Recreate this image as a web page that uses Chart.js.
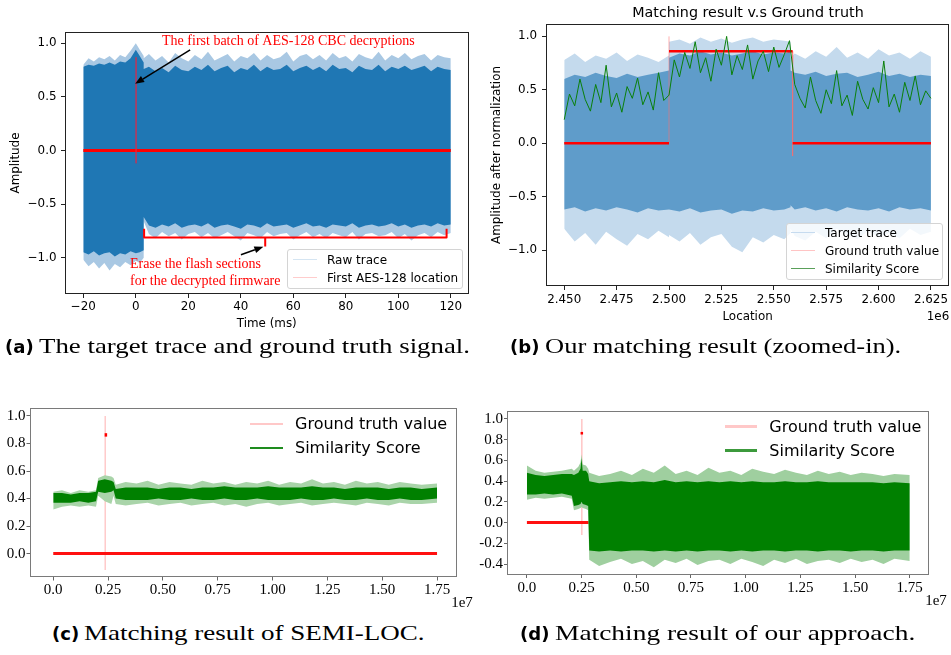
<!DOCTYPE html>
<html>
<head>
<meta charset="utf-8">
<script src="https://cdn.jsdelivr.net/npm/chart.js@4.4.1/dist/chart.umd.min.js"></script>
<style>
  html, body { margin: 0; padding: 0; background: #fff; }
  #page { position: relative; width: 951px; height: 655px; overflow: hidden; }
  canvas { position: absolute; }
  .txt { position: absolute; white-space: nowrap; line-height: 1; }
  .cap { position: absolute; white-space: nowrap; line-height: 1; font-family: "Liberation Serif", serif; font-size: 21px; color: #000; transform: translateY(-50%); }
  .cap b { font-family: "DejaVu Sans", sans-serif; font-weight: bold; font-size: 0.86em; }
  .cap span { display: inline-block; transform-origin: 0 50%; }
  .legend { position: absolute; box-sizing: border-box; }
  .legend.framed { border: 1px solid #d4d4d4; border-radius: 3px; background: rgba(255,255,255,0.8); }
  .legend .sw { position: absolute; }
  .legend .lt { position: absolute; white-space: nowrap; line-height: 1; font-family: "DejaVu Sans", sans-serif; color: #000; transform: translateY(-50%); }
</style>
</head>
<body>
<div id="page">
  <canvas id="ca" width="475" height="340" style="left:0;top:0"></canvas>
  <canvas id="cb" width="471" height="330" style="left:480px;top:0"></canvas>
  <canvas id="cc" width="475" height="230" style="left:0;top:380px"></canvas>
  <canvas id="cd" width="476" height="230" style="left:475px;top:380px"></canvas>
</div>
<script>
// (a) raw trace envelope, time in ms
const aX = [-20,-18,-16,-14,-12,-10,-8,-6,-4,-2,0,1.5,3,
  3,5,7.5,10,12.5,15,17.5,20,22.5,25,27.5,30,32.5,35,37.5,40,42.5,45,47.5,50,52.5,55,57.5,60,62.5,65,67.5,70,72.5,75,77.5,80,82.5,85,87.5,90,92.5,95,97.5,100,102.5,105,107.5,110,112.5,115,117.5,120];
const aTopLight = [0.80,0.86,0.83,0.87,0.85,0.88,0.84,0.89,0.87,0.93,1.00,0.94,0.88,
  0.86,0.90,0.84,0.88,0.82,0.91,0.86,0.83,0.89,0.85,0.92,0.84,0.87,0.90,0.83,0.88,0.86,0.91,0.84,0.89,0.85,0.87,0.92,0.83,0.88,0.90,0.85,0.89,0.84,0.91,0.86,0.88,0.83,0.90,0.87,0.85,0.92,0.84,0.89,0.86,0.91,0.85,0.88,0.90,0.84,0.89,0.87,0.86];
const aTopSolid = [0.78,0.80,0.79,0.81,0.80,0.82,0.80,0.83,0.82,0.86,0.94,0.88,0.82,
  0.76,0.78,0.74,0.77,0.73,0.79,0.75,0.74,0.78,0.75,0.80,0.74,0.77,0.79,0.73,0.77,0.75,0.80,0.74,0.78,0.75,0.76,0.80,0.74,0.77,0.79,0.75,0.78,0.74,0.80,0.76,0.77,0.73,0.79,0.76,0.75,0.80,0.74,0.78,0.76,0.79,0.75,0.77,0.79,0.74,0.78,0.76,0.75];
const aBotSolid = [-0.95,-0.97,-0.94,-0.98,-0.96,-0.95,-0.99,-0.96,-0.97,-0.94,-0.96,-0.95,-0.93,
  -0.62,-0.70,-0.72,-0.69,-0.71,-0.68,-0.72,-0.70,-0.69,-0.71,-0.68,-0.72,-0.70,-0.69,-0.71,-0.73,-0.69,-0.70,-0.72,-0.68,-0.71,-0.70,-0.69,-0.72,-0.70,-0.68,-0.71,-0.70,-0.72,-0.69,-0.70,-0.71,-0.68,-0.72,-0.70,-0.69,-0.71,-0.70,-0.68,-0.71,-0.69,-0.72,-0.70,-0.69,-0.71,-0.68,-0.70,-0.69];
const aBotLight = [-1.02,-1.08,-1.04,-1.10,-1.05,-1.12,-1.06,-1.09,-1.04,-1.07,-1.03,-1.05,-1.00,
  -0.66,-0.78,-0.82,-0.76,-0.80,-0.77,-0.83,-0.78,-0.76,-0.81,-0.77,-0.82,-0.79,-0.76,-0.80,-0.84,-0.77,-0.79,-0.82,-0.76,-0.80,-0.78,-0.77,-0.83,-0.79,-0.76,-0.81,-0.78,-0.82,-0.77,-0.79,-0.81,-0.76,-0.83,-0.78,-0.77,-0.80,-0.79,-0.76,-0.82,-0.78,-0.84,-0.79,-0.77,-0.81,-0.76,-0.79,-0.77];
const aTruthX = [-20, 120];
const aTruthY = [0, 0];
const aMarkX = [0.1, 0.1];
const aMarkY = [0.87, -0.12];
const aXTicks = [-20, 0, 20, 40, 60, 80, 100, 120];
const aXLabels = ["\u221220", "0", "20", "40", "60", "80", "100", "120"];
const aYTicks = [-1, -0.5, 0, 0.5, 1];
const aYLabels = ["\u22121.0", "\u22120.5", "0.0", "0.5", "1.0"];
const aLegend = ["Raw trace", "First AES-128 location"];

// (b) zoomed-in window, location in 1e6 samples
const bX = [2.450,2.455,2.460,2.465,2.470,2.475,2.480,2.485,2.490,2.495,2.500,
  2.500,2.505,2.510,2.515,2.520,2.525,2.530,2.535,2.540,2.545,2.550,2.555,2.558,
  2.558,2.560,2.565,2.570,2.575,2.580,2.585,2.590,2.595,2.600,2.605,2.610,2.615,2.620,2.625];
const bTopLight = [0.78,0.84,0.76,0.82,0.79,0.85,0.77,0.83,0.80,0.76,0.82,
  0.95,0.97,0.93,0.99,0.95,0.98,0.94,0.97,0.99,0.95,0.97,0.96,0.95,
  0.80,0.84,0.79,0.86,0.81,0.90,0.80,0.85,0.79,0.88,0.82,0.85,0.79,0.86,0.81];
const bTopSolid = [0.60,0.64,0.62,0.66,0.63,0.61,0.65,0.62,0.64,0.66,0.68,
  0.80,0.84,0.82,0.86,0.83,0.85,0.82,0.84,0.86,0.83,0.85,0.84,0.86,
  0.68,0.66,0.64,0.67,0.63,0.65,0.66,0.62,0.64,0.67,0.63,0.65,0.62,0.64,0.63];
const bBotSolid = [-0.62,-0.60,-0.64,-0.61,-0.63,-0.60,-0.62,-0.65,-0.61,-0.63,-0.62,
  -0.62,-0.64,-0.61,-0.65,-0.63,-0.62,-0.66,-0.63,-0.64,-0.61,-0.63,-0.62,-0.60,
  -0.58,-0.62,-0.60,-0.63,-0.61,-0.64,-0.60,-0.62,-0.63,-0.61,-0.64,-0.60,-0.62,-0.61,-0.63];
const bBotLight = [-0.80,-0.92,-0.84,-0.95,-0.83,-0.90,-0.96,-0.85,-0.90,-0.82,-0.88,
  -0.86,-0.92,-0.84,-0.95,-0.88,-0.85,-0.97,-1.02,-0.88,-0.93,-0.86,-0.90,-0.84,
  -0.80,-0.87,-0.91,-0.83,-0.89,-0.80,-0.86,-0.90,-0.82,-0.88,-0.84,-0.89,-0.80,-0.86,-0.83];
const bScoreX = [2.4500,2.4525,2.4550,2.4575,2.4600,2.4625,2.4650,2.4675,2.4700,2.4725,2.4750,2.4775,2.4800,2.4825,2.4850,2.4875,2.4900,2.4925,2.4950,2.4975,
  2.5000,
  2.5025,2.5050,2.5075,2.5100,2.5125,2.5150,2.5175,2.5200,2.5225,2.5250,2.5275,2.5300,2.5325,2.5350,2.5375,2.5400,2.5425,2.5450,2.5475,2.5500,2.5525,2.5550,2.5575,
  2.5600,2.5625,2.5650,2.5675,2.5700,2.5725,2.5750,2.5775,2.5800,2.5825,2.5850,2.5875,2.5900,2.5925,2.5950,2.5975,2.6000,2.6025,2.6050,2.6075,2.6100,2.6125,2.6150,2.6175,2.6200,2.6225,2.6250];
const bScoreY = [0.22,0.46,0.35,0.60,0.41,0.30,0.55,0.38,0.73,0.34,0.47,0.29,0.53,0.42,0.61,0.36,0.48,0.31,0.66,0.40,
  0.45,
  0.78,0.62,0.85,0.70,0.95,0.66,0.80,0.58,0.88,0.73,1.00,0.64,0.82,0.69,0.92,0.60,0.77,0.86,0.67,0.90,0.71,0.83,0.96,
  0.55,0.42,0.33,0.62,0.40,0.28,0.50,0.37,0.68,0.35,0.45,0.26,0.58,0.41,0.32,0.52,0.38,0.77,0.34,0.46,0.29,0.57,0.40,0.63,0.36,0.49,0.42];
const bTruthX = [2.450, 2.500, 2.500, 2.500, 2.559, 2.559, 2.559, 2.625];
const bTruthY = [0, 0, null, 0.86, 0.86, null, 0, 0];
const bSpikeX = [2.500, 2.500, 2.500, 2.559, 2.559];
const bSpikeY = [0, 1.0, null, 0.86, -0.12];
const bXTicks = [2.45, 2.475, 2.5, 2.525, 2.55, 2.575, 2.6, 2.625];
const bXLabels = ["2.450", "2.475", "2.500", "2.525", "2.550", "2.575", "2.600", "2.625"];
const bYTicks = aYTicks;
const bYLabels = aYLabels;
const bLegend = ["Target trace", "Ground truth value", "Similarity Score"];

// (c) SEMI-LOC score over the full trace, location in 1e7 samples
const cX = [0,0.04,0.08,0.12,0.16,0.195, 0.205,0.235,0.265,0.275,
  0.285,0.33,0.38,0.43,0.48,0.53,0.58,0.63,0.68,0.73,0.78,0.83,0.88,0.93,0.98,1.03,1.08,1.13,1.18,1.23,1.28,1.33,1.38,1.43,1.48,1.53,1.58,1.63,1.68,1.75];
const cTopLight = [0.45,0.46,0.44,0.46,0.45,0.46, 0.55,0.57,0.56,0.55,
  0.50,0.52,0.51,0.53,0.50,0.52,0.51,0.50,0.53,0.51,0.52,0.50,0.52,0.51,0.53,0.50,0.52,0.51,0.54,0.51,0.52,0.50,0.53,0.51,0.52,0.50,0.52,0.51,0.50,0.51];
const cTopSolid = [0.44,0.44,0.43,0.44,0.44,0.45, 0.53,0.54,0.53,0.52,
  0.47,0.48,0.48,0.48,0.47,0.48,0.48,0.47,0.48,0.48,0.49,0.48,0.48,0.48,0.49,0.48,0.48,0.48,0.49,0.48,0.48,0.47,0.48,0.48,0.48,0.47,0.48,0.48,0.47,0.48];
const cBotSolid = [0.37,0.37,0.37,0.38,0.37,0.38, 0.45,0.44,0.45,0.46,
  0.40,0.39,0.39,0.39,0.40,0.39,0.39,0.40,0.39,0.39,0.40,0.39,0.39,0.40,0.39,0.39,0.39,0.40,0.39,0.39,0.40,0.39,0.39,0.40,0.39,0.39,0.40,0.39,0.39,0.40];
const cBotLight = [0.32,0.34,0.35,0.34,0.35,0.34, 0.42,0.38,0.36,0.42,
  0.36,0.35,0.36,0.37,0.35,0.36,0.37,0.35,0.36,0.37,0.35,0.36,0.34,0.36,0.37,0.35,0.36,0.37,0.35,0.36,0.37,0.36,0.35,0.37,0.36,0.35,0.37,0.36,0.36,0.37];
const cTruthX = [0, 1.75];
const cTruthY = [0, 0];
const cSpikeX = [0.237, 0.237];
const cSpikeY = [-0.12, 1.0];
const cMarkX = [0.24, 0.24];
const cMarkY = [0.85, 0.875];
const cXTicks = [0, 0.25, 0.5, 0.75, 1.0, 1.25, 1.5, 1.75];
const cXLabels = ["0.0", "0.25", "0.50", "0.75", "1.00", "1.25", "1.50", "1.75"];
const cYTicks = [0, 0.2, 0.4, 0.6, 0.8, 1.0];
const cYLabels = ["0.0", "0.2", "0.4", "0.6", "0.8", "1.0"];
const cLegend = ["Ground truth value", "Similarity Score"];

// (d) our approach over the full trace
const dX = [0,0.04,0.08,0.12,0.16,0.205, 0.215,0.235,0.245,0.25,0.255,0.27,0.28,
  0.285,0.33,0.38,0.43,0.48,0.53,0.58,0.63,0.68,0.73,0.78,0.83,0.88,0.93,0.98,1.03,1.08,1.13,1.18,1.23,1.28,1.33,1.38,1.43,1.48,1.53,1.58,1.63,1.68,1.75];
const dTopLight = [0.55,0.50,0.48,0.49,0.50,0.52, 0.50,0.54,0.58,0.66,0.56,0.55,0.52,
  0.48,0.45,0.47,0.50,0.46,0.52,0.48,0.55,0.47,0.50,0.46,0.53,0.48,0.50,0.46,0.52,0.49,0.47,0.51,0.48,0.46,0.50,0.47,0.49,0.46,0.48,0.47,0.45,0.47,0.46];
const dTopSolid = [0.48,0.46,0.45,0.46,0.47,0.47, 0.46,0.48,0.52,0.62,0.50,0.50,0.47,
  0.40,0.38,0.39,0.40,0.39,0.40,0.39,0.41,0.39,0.40,0.39,0.40,0.39,0.40,0.39,0.40,0.39,0.39,0.40,0.39,0.39,0.40,0.39,0.39,0.39,0.39,0.39,0.38,0.39,0.38];
const dBotSolid = [0.27,0.27,0.28,0.27,0.28,0.26, 0.16,0.17,0.18,0.20,0.18,0.17,0.16,
  -0.27,-0.28,-0.27,-0.28,-0.27,-0.27,-0.28,-0.27,-0.28,-0.27,-0.28,-0.27,-0.27,-0.28,-0.27,-0.28,-0.27,-0.27,-0.28,-0.27,-0.27,-0.28,-0.27,-0.27,-0.28,-0.27,-0.27,-0.28,-0.27,-0.27];
const dBotLight = [0.22,0.24,0.23,0.24,0.25,0.23, 0.12,0.13,0.14,0.15,0.14,0.13,0.12,
  -0.36,-0.42,-0.38,-0.35,-0.40,-0.37,-0.43,-0.36,-0.39,-0.35,-0.41,-0.37,-0.36,-0.40,-0.35,-0.38,-0.42,-0.36,-0.39,-0.35,-0.40,-0.37,-0.36,-0.39,-0.35,-0.38,-0.36,-0.40,-0.35,-0.37];
const dTruthX = [0, 0.29];
const dTruthY = [0, 0];
const dSpikeX = [0.251, 0.251];
const dSpikeY = [-0.12, 1.0];
const dMarkX = [0.251, 0.251];
const dMarkY = [0.85, 0.875];
const dXTicks = cXTicks;
const dXLabels = cXLabels;
const dYTicks = [-0.4, -0.2, 0, 0.2, 0.4, 0.6, 0.8, 1.0];
const dYLabels = ["-0.4", "-0.2", "0.0", "0.2", "0.4", "0.6", "0.8", "1.0"];
const dLegend = cLegend;

const $ = (sel) => document.querySelector(sel);
const page = $("#page");

const SANS = { family: "DejaVu Sans", size: 11.9 };
const SERIF = { family: "Liberation Serif", size: 15 };

function pts(xs, ys) {
  return xs.map((x, i) => ({ x, y: ys[i] }));
}

function band(xs, top, bot, color, order) {
  return [
    { data: pts(xs, top), fill: "+1", backgroundColor: color, borderColor: "rgba(0,0,0,0)", borderWidth: 1, order },
    { data: pts(xs, bot), fill: false, borderColor: "rgba(0,0,0,0)", borderWidth: 1, order },
  ];
}

function line(xs, ys, color, width, order) {
  return { data: pts(xs, ys), fill: false, borderColor: color, borderWidth: width, spanGaps: false, order };
}

function axis(o) {
  return {
    type: "linear",
    min: o.min,
    max: o.max,
    afterBuildTicks: (s) => { s.ticks = o.ticks.map((v) => ({ value: v })); },
    afterFit: (s) => { if (s.isHorizontal()) s.height = o.size; else s.width = o.size; },
    ticks: { autoSkip: false, maxRotation: 0, padding: o.pad, font: o.font, color: "#000", callback: (v, i) => o.labels[i] },
    grid: { drawOnChartArea: false, drawTicks: true, tickLength: o.tick, tickColor: o.tickColor, tickWidth: 1 },
    border: { display: false },
    title: o.title
      ? { display: true, text: o.title, font: o.font, color: "#000", padding: o.titlePad }
      : { display: false },
  };
}

const frame = (color) => ({
  id: "frame",
  afterDatasetsDraw(chart) {
    const { ctx, chartArea: a } = chart;
    ctx.save();
    ctx.strokeStyle = color;
    ctx.lineWidth = 1;
    ctx.strokeRect(Math.round(a.left) + 0.5, Math.round(a.top) + 0.5, Math.round(a.width) - 1, Math.round(a.height) - 1);
    ctx.restore();
  },
});

function makeChart(id, o) {
  return new Chart($(id), {
    type: "line",
    data: { datasets: o.datasets },
    options: {
      responsive: false,
      animation: false,
      devicePixelRatio: 1,
      events: [],
      layout: { padding: o.padding },
      elements: { point: { radius: 0, hoverRadius: 0 }, line: { tension: 0 } },
      plugins: { legend: { display: false }, tooltip: { enabled: false }, title: { display: false } },
      scales: { x: axis(o.x), y: axis(o.y) },
    },
    plugins: [frame(o.frameColor)].concat(o.extra || []),
  });
}

// annotations of (a), placed in data coordinates
const aNotes = {
  texts: [
    { text: "The first batch of AES-128 CBC decryptions", x: 10.0, y: 0.986 },
    { text: "Erase the flash sections", x: -2.2, y: -1.094 },
    { text: "for the decrypted firmware", x: -2.2, y: -1.259 },
  ],
  arrows: [
    { from: [20.7, 0.939], to: [-0.27, 0.622] },
    { from: [40.05, -0.973], to: [48.6, -0.898] },
  ],
  bracket: { x0: 3.16, x1: 118.4, y: -0.812, yEnd: -0.73, xMid: 49.3, yMid: -0.896 },
};

const notesPlugin = {
  id: "notes",
  afterDraw(chart) {
    const { ctx, scales: { x, y } } = chart;
    const px = (v) => x.getPixelForValue(v);
    const py = (v) => y.getPixelForValue(v);
    ctx.save();
    const b = aNotes.bracket;
    ctx.strokeStyle = "#ff0000";
    ctx.lineWidth = 2;
    ctx.lineJoin = "round";
    ctx.beginPath();
    ctx.moveTo(px(b.x0), py(b.yEnd));
    ctx.lineTo(px(b.x0), py(b.y));
    ctx.lineTo(px(b.x1), py(b.y));
    ctx.lineTo(px(b.x1), py(b.yEnd));
    ctx.moveTo(px(b.xMid), py(b.y));
    ctx.lineTo(px(b.xMid), py(b.yMid));
    ctx.stroke();

    ctx.strokeStyle = "#000";
    ctx.fillStyle = "#000";
    ctx.lineWidth = 1.5;
    for (const a of aNotes.arrows) {
      const x0 = px(a.from[0]), y0 = py(a.from[1]);
      const x1 = px(a.to[0]), y1 = py(a.to[1]);
      const ang = Math.atan2(y1 - y0, x1 - x0);
      const hl = 9, hw = 3.5;
      const bx = x1 - hl * Math.cos(ang), by = y1 - hl * Math.sin(ang);
      ctx.beginPath();
      ctx.moveTo(x0, y0);
      ctx.lineTo(bx, by);
      ctx.stroke();
      ctx.beginPath();
      ctx.moveTo(x1, y1);
      ctx.lineTo(bx + hw * Math.sin(ang), by - hw * Math.cos(ang));
      ctx.lineTo(bx - hw * Math.sin(ang), by + hw * Math.cos(ang));
      ctx.closePath();
      ctx.fill();
    }

    ctx.font = "14px 'Liberation Serif', serif";
    ctx.fillStyle = "#ff0000";
    ctx.textBaseline = "alphabetic";
    for (const t of aNotes.texts) ctx.fillText(t.text, px(t.x), py(t.y));
    ctx.restore();
  },
};

makeChart("#ca", {
  padding: { left: 0, top: 32, right: 6.5, bottom: 0 },
  frameColor: "#222",
  x: { min: -26.98, max: 126.75, ticks: aXTicks, labels: aXLabels, size: 46, pad: 2, tick: 4, tickColor: "#222", font: SANS, title: "Time (ms)", titlePad: { top: 0, bottom: 9 } },
  y: { min: -1.339, max: 1.105, ticks: aYTicks, labels: aYLabels, size: 65, pad: 4.5, tick: 4, tickColor: "#222", font: SANS, title: "Amplitude", titlePad: { top: 9, bottom: 0 } },
  datasets: [
    ...band(aX, aTopLight, aBotLight, "#a9c8e3", 10),
    ...band(aX, aTopSolid, aBotSolid, "#1f77b4", 9),
    line(aTruthX, aTruthY, "#ff0000", 3, 6),
    line(aMarkX, aMarkY, "rgba(230,40,70,0.55)", 1, 5),
  ],
  extra: [notesPlugin],
});

makeChart("#cb", {
  padding: { left: 0, top: 24, right: 1, bottom: 0 },
  frameColor: "#222",
  x: { min: 2.4413, max: 2.6337, ticks: bXTicks, labels: bXLabels, size: 44, pad: 3, tick: 4, tickColor: "#222", font: SANS, title: "Location", titlePad: { top: 0, bottom: 6 } },
  y: { min: -1.337, max: 1.116, ticks: bYTicks, labels: bYLabels, size: 66, pad: 5, tick: 4, tickColor: "#222", font: SANS, title: "Amplitude after normalization", titlePad: { top: 10, bottom: 0 } },
  datasets: [
    ...band(bX, bTopLight, bBotLight, "#c4daed", 10),
    ...band(bX, bTopSolid, bBotSolid, "#5f9cca", 9),
    line(bSpikeX, bSpikeY, "rgba(255,110,110,0.55)", 1, 7),
    line(bTruthX, bTruthY, "#ff0000", 2.5, 6),
    line(bScoreX, bScoreY, "#0a800a", 1, 5),
  ],
});

makeChart("#cc", {
  padding: { left: 0, top: 28, right: 18, bottom: 0 },
  frameColor: "#7a7a7a",
  x: { min: -0.106, max: 1.841, ticks: cXTicks, labels: cXLabels, size: 33, pad: 1, tick: 3.5, tickColor: "#666", font: SERIF },
  y: { min: -0.17, max: 1.058, ticks: cYTicks, labels: cYLabels, size: 30, pad: 1, tick: 3.5, tickColor: "#666", font: SERIF },
  datasets: [
    line(cSpikeX, cSpikeY, "rgba(255,150,150,0.5)", 1.5, 8),
    line(cTruthX, cTruthY, "#ff1010", 3, 7),
    line(cMarkX, cMarkY, "#ff0000", 2.5, 7),
    ...band(cX, cTopLight, cBotLight, "#a9d4a9", 6),
    ...band(cX, cTopSolid, cBotSolid, "#008000", 5),
  ],
});

makeChart("#cd", {
  padding: { left: 0, top: 31, right: 22, bottom: 0 },
  frameColor: "#7a7a7a",
  x: { min: -0.091, max: 1.838, ticks: dXTicks, labels: dXLabels, size: 35, pad: 1, tick: 3, tickColor: "#666", font: SERIF },
  y: { min: -0.506, max: 1.077, ticks: dYTicks, labels: dYLabels, size: 32, pad: 1, tick: 3, tickColor: "#666", font: SERIF },
  datasets: [
    line(dSpikeX, dSpikeY, "rgba(255,150,150,0.55)", 1.5, 8),
    line(dTruthX, dTruthY, "#ff1010", 3, 7),
    line(dMarkX, dMarkY, "#ff0000", 2.5, 7),
    ...band(dX, dTopLight, dBotLight, "#9fcf9f", 6),
    ...band(dX, dTopSolid, dBotSolid, "#008000", 5),
  ],
});

// html text: legends, titles, offsets, captions
function text(str, o) {
  const el = document.createElement("div");
  el.className = "txt";
  el.textContent = str;
  Object.assign(el.style, {
    left: o.x + "px", top: o.y + "px", font: o.font, color: o.color || "#000",
    transform: o.center ? "translate(-50%,-50%)" : "translate(0,-50%)",
  });
  page.append(el);
  return el;
}

function legend(o) {
  const box = document.createElement("div");
  box.className = "legend" + (o.framed ? " framed" : "");
  Object.assign(box.style, { left: o.left + "px", top: o.top + "px", width: o.width + "px", height: o.height + "px" });
  o.labels.forEach((label, i) => {
    const cy = o.rows[i];
    const sw = document.createElement("div");
    sw.className = "sw";
    Object.assign(sw.style, { left: o.swX + "px", width: o.swW + "px", top: cy - o.lw[i] / 2 + "px", height: o.lw[i] + "px", background: o.colors[i] });
    const t = document.createElement("div");
    t.className = "lt";
    t.textContent = label;
    Object.assign(t.style, { left: o.textX + "px", top: cy + "px", fontSize: o.size + "px" });
    box.append(sw, t);
  });
  page.append(box);
}

legend({ labels: aLegend, framed: true, left: 287, top: 249, width: 176, height: 40, rows: [9.5, 27.5], swX: 5, swW: 23.5, textX: 39, size: 12,
  colors: ["#d5e5f2", "#ffcccc"], lw: [1, 1] });
legend({ labels: bLegend, framed: true, left: 786, top: 223, width: 157, height: 57, rows: [8.5, 26.5, 44.5], swX: 4, swW: 23.5, textX: 38, size: 12,
  colors: ["#c6dbef", "#ffc4c4", "#5aa05a"], lw: [1, 1, 1] });
legend({ labels: cLegend, left: 250, top: 410, width: 200, height: 50, rows: [14, 38.3], swX: 0, swW: 32.7, textX: 45, size: 16,
  colors: ["#ffc8c8", "#1e8c1e"], lw: [2, 2] });
legend({ labels: dLegend, left: 725, top: 410, width: 200, height: 50, rows: [16.7, 40.7], swX: 0, swW: 31.7, textX: 44.3, size: 16,
  colors: ["#ffc8c8", "#3c9a3c"], lw: [2.5, 3] });

text("Matching result v.s Ground truth", { x: 748, y: 12, center: true, font: "14.3px 'DejaVu Sans', sans-serif" });
text("1e6", { x: 938, y: 316, center: true, font: "11.9px 'DejaVu Sans', sans-serif" });
text("1e7", { x: 462, y: 602, center: true, font: "15px 'Liberation Serif', serif" });
text("1e7", { x: 936, y: 600, center: true, font: "15px 'Liberation Serif', serif" });

// caption: serif text widened horizontally to the measured width
function caption(tag, str, left, cy, width) {
  const el = document.createElement("div");
  el.className = "cap";
  const b = document.createElement("b");
  b.textContent = tag;
  const s = document.createElement("span");
  s.textContent = str;
  el.append(b, " ", s);
  el.style.left = left + "px";
  el.style.top = cy + "px";
  page.append(el);
  const total = el.getBoundingClientRect().width;
  const sw = s.getBoundingClientRect().width;
  const k = (width - (total - sw)) / sw;
  s.style.transform = "scaleX(" + k.toFixed(3) + ")";
}

caption("(a)", "The target trace and ground truth signal.", 5, 346, 465);
caption("(b)", "Our matching result (zoomed-in).", 510, 346, 391);
caption("(c)", "Matching result of SEMI-LOC.", 52, 633, 373);
caption("(d)", "Matching result of our approach.", 520, 633, 395);
</script>
</body>
</html>
